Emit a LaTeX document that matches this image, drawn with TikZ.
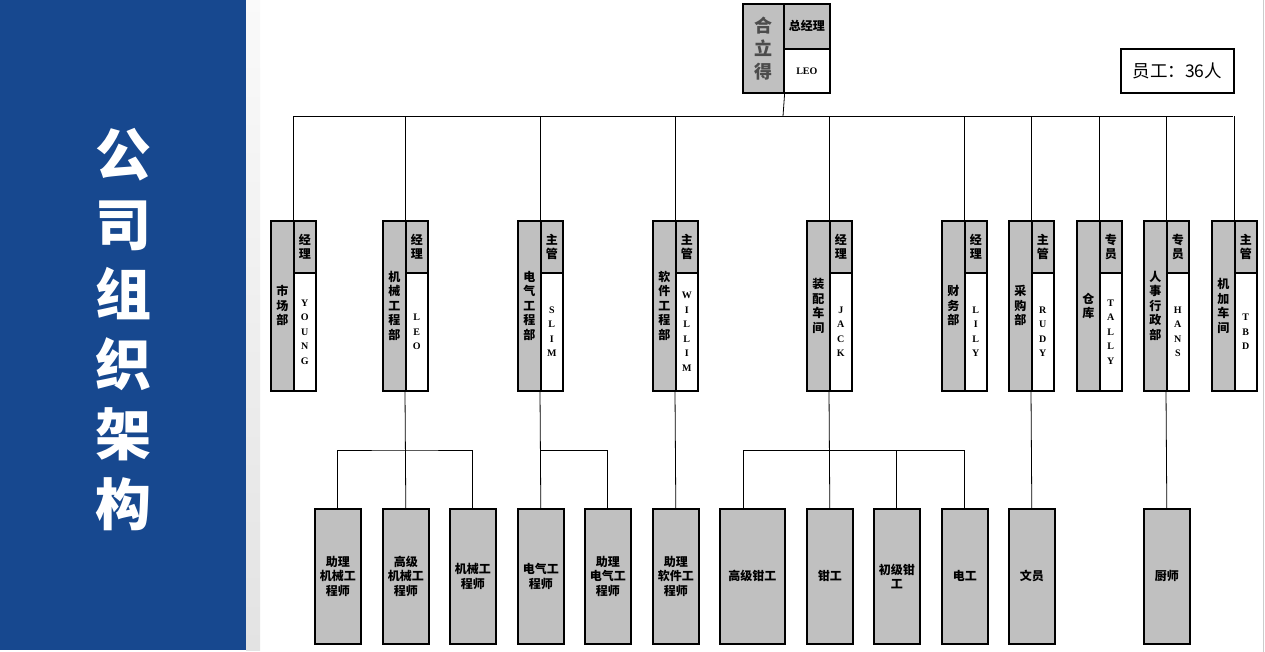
\documentclass[tikz,border=0pt]{standalone}
\usepackage{fontspec}
\newfontfamily\cjk{Noto Sans CJK SC}
\newfontfamily\lat{Liberation Serif}
\definecolor{panelblue}{HTML}{17488F}
\definecolor{boxgray}{HTML}{C0C0C0}
\tikzset{
  box/.style={draw, line width=1.6pt, inner sep=0pt, anchor=north west},
  gbox/.style={box, fill=boxgray},
  wbox/.style={box, fill=white},
  cn/.style={font=\cjk\bfseries\fontsize{12}{14.5}\selectfont, align=center},
  nm/.style={font=\lat\bfseries\fontsize{10}{14.5}\selectfont, align=center},
  conn/.style={line width=0.8pt},
  title/.style={font=\cjk\bfseries\fontsize{56}{70}\selectfont, text=white, align=center},
}
\newcommand\deptbox[5]{%
  \node[gbox, minimum width=23pt, minimum height=170pt, cn] (#1l) at (#2,220) {#3};
  \node[gbox, minimum width=22pt, minimum height=52pt, cn] (#1h) at (#2+23,220) {#4};
  \node[wbox, minimum width=22pt, minimum height=118pt, nm] (#1n) at (#2+23,272) {#5};
  \draw[conn] (#1h.north west) -- (#1h.north west |- bus);
}
\newcommand\staffbox[4]{%
  \node[gbox, minimum width=#3pt, minimum height=135pt, cn] (#1) at (#2,508) {#4};
}
\begin{document}
\begin{tikzpicture}[x=1pt,y=-1pt]
\useasboundingbox (0,0) rectangle (1265,652);
\fill[white] (0,0) rectangle (1265,652);
\fill[panelblue] (0,0) rectangle (246,650);
\shade[top color=gray!4, bottom color=gray!22] (246,0) rectangle (260,650);
\draw[gray!40, line width=0.8pt] (1263,0) -- (1263,652);
\node[title] (ttl) at (123,330) {公\\司\\组\\织\\架\\构};

% top
\node[gbox, minimum width=41pt, minimum height=89pt,
      font=\cjk\bfseries\fontsize{18}{23}\selectfont, text=black!70, align=center] (ceoL) at (742,3) {合\\立\\得};
\node[gbox, minimum width=46pt, minimum height=45pt, cn] (ceoH) at (783,3) {总经理};
\node[wbox, minimum width=46pt, minimum height=44pt, nm] (ceoN) at (783,48) {LEO};
\node[draw, line width=1.6pt, inner sep=0pt, anchor=north west, minimum width=113pt, minimum height=44pt,
      font=\cjk\fontsize{17.5}{17.5}\selectfont] (staff) at (1120,48) {员工：36人};

\coordinate (bus) at (783,116);
\coordinate (busL) at (293,116);
\coordinate (busR) at (1233,116);
\draw[conn] (busL) -- (busR);
\draw[conn] (ceoL.south east) -- (bus);

\deptbox{d1}{270}{市\\场\\部}{经\\理}{Y\\O\\U\\N\\G}
\deptbox{d2}{382}{机\\械\\工\\程\\部}{经\\理}{L\\E\\O}
\deptbox{d3}{517}{电\\气\\工\\程\\部}{主\\管}{S\\L\\I\\M}
\deptbox{d4}{652}{软\\件\\工\\程\\部}{主\\管}{W\\I\\L\\L\\I\\M}
\deptbox{d5}{806}{装\\配\\车\\间}{经\\理}{J\\A\\C\\K}
\deptbox{d6}{941}{财\\务\\部}{经\\理}{L\\I\\L\\Y}
\deptbox{d7}{1008}{采\\购\\部}{主\\管}{R\\U\\D\\Y}
\deptbox{d8}{1076}{仓\\库}{专\\员}{T\\A\\L\\L\\Y}
\deptbox{d9}{1143}{人\\事\\行\\政\\部}{专\\员}{H\\A\\N\\S}
\deptbox{d10}{1211}{机\\加\\车\\间}{主\\管}{T\\B\\D}

\staffbox{s1}{314}{46}{助理\\机械工\\程师}
\staffbox{s2}{382}{46}{高级\\机械工\\程师}
\staffbox{s3}{449}{46}{机械工\\程师}
\staffbox{s4}{517}{46}{电气工\\程师}
\staffbox{s5}{584}{46}{助理\\电气工\\程师}
\staffbox{s6}{652}{46}{助理\\软件工\\程师}
\staffbox{s7}{719}{65}{高级钳工}
\staffbox{s8}{806}{46}{钳工}
\staffbox{s9}{873}{46}{初级钳\\工}
\staffbox{s10}{941}{46}{电工}
\staffbox{s11}{1008}{46}{文员}
\staffbox{s12}{1143}{46}{厨师}

\coordinate (j2) at (405,450);
\coordinate (j3) at (540,450);
\coordinate (j5) at (829,450);
\coordinate (s7t) at ([xshift=24pt]s7.north west);

\draw[conn] (d2n.south west) -- (s2.north);
\draw[conn] (s1.north) |- (j2) -| (s3.north);
\draw[conn] (d3n.south west) -- (s4.north);
\draw[conn] (j3) -| (s5.north);
\draw[conn] (d4n.south west) -- (s6.north);
\draw[conn] (d5n.south west) -- (s8.north);
\draw[conn] (s7t) |- (s10.north |- j5) -- (s10.north);
\draw[conn] (s9.north) -- (s9.north |- j5);
\draw[conn] (d7n.south west) -- (s11.north);
\draw[conn] (d9n.south west) -- (s12.north);
\end{tikzpicture}
\end{document}
